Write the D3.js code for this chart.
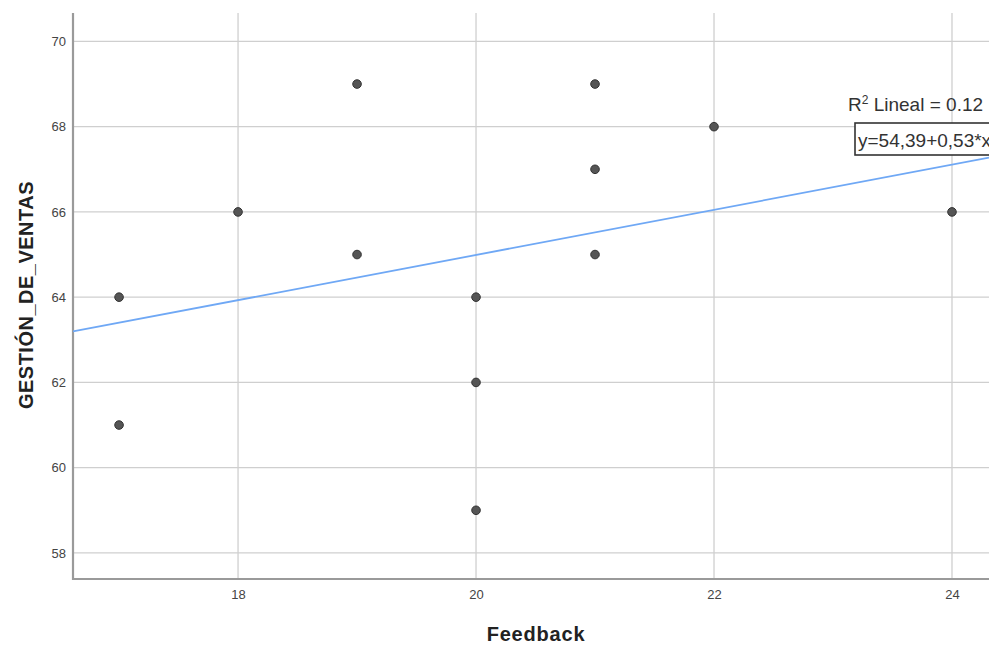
<!DOCTYPE html>
<html>
<head>
<meta charset="utf-8">
<script src="https://cdn.jsdelivr.net/npm/d3@7"></script>
<style>
  html, body { margin: 0; padding: 0; background: #fff; }
  svg { display: block; font-family: Arial, "Liberation Sans", sans-serif; }
</style>
</head>
<body>
<svg id="chart" width="989" height="646"></svg>
<script>
// Feedback vs. GESTIÓN_DE_VENTAS observations
const feedback = [17, 17, 18, 19, 19, 20, 20, 20, 21, 21, 21, 22, 24];
const ventas   = [64, 61, 66, 69, 65, 64, 62, 59, 69, 67, 65, 68, 66];

const xTicks = [18, 20, 22, 24];
const yTicks = [58, 60, 62, 64, 66, 68, 70];

// Linear fit reported in the chart
const intercept = 54.39;
const slope = 0.53;
const r2Label = "0.12";
const fitLabel = "y=54,39+0,53*x";

const svg = d3.select("#chart");

const plot = { left: 73, right: 989, top: 13, bottom: 579 };

const x = d3.scaleLinear().domain([16.613, 24.311]).range([plot.left, plot.right]);
const y = d3.scaleLinear().domain([57.388, 70.667]).range([plot.bottom, plot.top]);

const gridColor = "#cfcfcf";
const axisColor = "#9a9a9a";

// Grid lines
svg.append("g").selectAll("line.vg").data(xTicks).join("line")
  .attr("x1", d => x(d)).attr("x2", d => x(d))
  .attr("y1", plot.top).attr("y2", plot.bottom)
  .attr("stroke", gridColor).attr("stroke-width", 1.3);

svg.append("g").selectAll("line.hg").data(yTicks).join("line")
  .attr("x1", plot.left).attr("x2", plot.right)
  .attr("y1", d => y(d)).attr("y2", d => y(d))
  .attr("stroke", gridColor).attr("stroke-width", 1.3);

// Axes
const xAxis = d3.axisBottom(x).tickValues(xTicks).tickSize(0).tickPadding(11).tickFormat(d3.format("d"));
const yAxis = d3.axisLeft(y).tickValues(yTicks).tickSize(0).tickPadding(7).tickFormat(d3.format("d"));

const gx = svg.append("g").attr("transform", `translate(0,${plot.bottom})`).call(xAxis);
gx.select(".domain").remove();
gx.selectAll("text").attr("font-size", 13).attr("fill", "#444");

const gy = svg.append("g").attr("transform", `translate(${plot.left},0)`).call(yAxis);
gy.select(".domain").remove();
gy.selectAll("text").attr("font-size", 13).attr("fill", "#444");

svg.append("line")
  .attr("x1", plot.left).attr("x2", plot.left)
  .attr("y1", plot.top).attr("y2", plot.bottom + 1)
  .attr("stroke", axisColor).attr("stroke-width", 2.2);
svg.append("line")
  .attr("x1", plot.left - 1).attr("x2", plot.right)
  .attr("y1", plot.bottom).attr("y2", plot.bottom)
  .attr("stroke", axisColor).attr("stroke-width", 2.2);

// Fit line
const [x0, x1] = x.domain();
svg.append("line")
  .attr("x1", x(x0)).attr("y1", y(intercept + slope * x0))
  .attr("x2", x(x1)).attr("y2", y(intercept + slope * x1))
  .attr("stroke", "#6fa8f5").attr("stroke-width", 1.8);

// Points
svg.append("g").selectAll("circle").data(feedback.map((f, i) => [f, ventas[i]])).join("circle")
  .attr("cx", d => x(d[0])).attr("cy", d => y(d[1]))
  .attr("r", 4.3)
  .attr("fill", "#555")
  .attr("stroke", "#333").attr("stroke-width", 1);

// Fit annotations
const r2 = svg.append("text").attr("x", 848).attr("y", 111)
  .attr("font-size", 19).attr("fill", "#333");
r2.append("tspan").text("R");
r2.append("tspan").attr("baseline-shift", "super").attr("font-size", 12).text("2");
r2.append("tspan").text(" Lineal = " + r2Label);

svg.append("rect").attr("x", 855).attr("y", 123).attr("width", 150).attr("height", 32)
  .attr("fill", "#fff").attr("stroke", "#333").attr("stroke-width", 1.6);
svg.append("text").attr("x", 858).attr("y", 147)
  .attr("font-size", 19).attr("fill", "#333").text(fitLabel);

// Axis titles
svg.append("text").attr("x", 536).attr("y", 641).attr("text-anchor", "middle")
  .attr("font-size", 20).attr("font-weight", "bold").attr("letter-spacing", 0.8)
  .attr("fill", "#222").text("Feedback");

svg.append("text").attr("transform", "translate(33,295) rotate(-90)").attr("text-anchor", "middle")
  .attr("font-size", 20).attr("font-weight", "bold").attr("letter-spacing", 0.5)
  .attr("fill", "#222").text("GESTIÓN_DE_VENTAS");
</script>
</body>
</html>
